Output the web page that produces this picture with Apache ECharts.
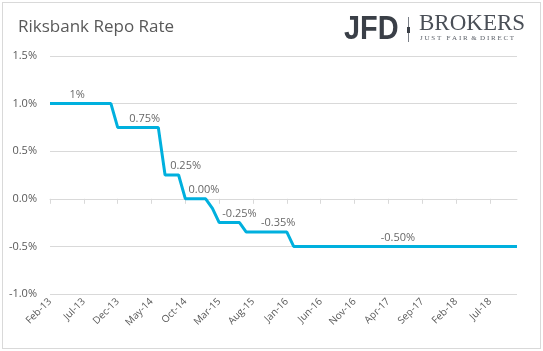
<!DOCTYPE html>
<html>
<head>
<meta charset="utf-8">
<script src="https://cdn.jsdelivr.net/npm/echarts@6/dist/echarts.min.js"></script>
<style>
  html, body { margin: 0; padding: 0; background: #fff; }
  #frame { position: absolute; left: 2px; top: 2px; width: 537px; height: 345px; border: 1px solid #d9d9d9; }
  #main { position: absolute; left: 0; top: 0; width: 543px; height: 351px; }
</style>
</head>
<body>
<div id="frame"></div>
<div id="main"></div>
<script>
// months Feb-13 .. Nov-18
var months = ['Jan','Feb','Mar','Apr','May','Jun','Jul','Aug','Sep','Oct','Nov','Dec'];
var categories = [];
for (var y = 13; y <= 18; y++) {
    for (var m = 0; m < 12; m++) {
        if (y == 13 && m < 1) continue;
        if (y == 18 && m > 10) continue;
        categories.push(months[m] + '-' + y);
    }
}

// repo rate, % (one value per month)
var repoRate = [
    1, 1, 1, 1, 1, 1, 1, 1, 1, 1,                 // Feb-13 .. Nov-13
    0.75, 0.75, 0.75, 0.75, 0.75, 0.75, 0.75,     // Dec-13 .. Jun-14
    0.25, 0.25, 0.25,                             // Jul-14 .. Sep-14
    0, 0, 0, 0,                                   // Oct-14 .. Jan-15
    -0.1,                                         // Feb-15
    -0.25, -0.25, -0.25, -0.25,                   // Mar-15 .. Jun-15
    -0.35, -0.35, -0.35, -0.35, -0.35, -0.35, -0.35, // Jul-15 .. Jan-16
    -0.5, -0.5, -0.5, -0.5, -0.5, -0.5, -0.5, -0.5, -0.5, -0.5,
    -0.5, -0.5, -0.5, -0.5, -0.5, -0.5, -0.5, -0.5, -0.5, -0.5,
    -0.5, -0.5, -0.5, -0.5, -0.5, -0.5, -0.5, -0.5, -0.5, -0.5,
    -0.5, -0.5, -0.5, -0.5                        // Feb-16 .. Nov-18
];

// data labels: which month gets which text
var labelMonths = ['Jun-13', 'Apr-14', 'Sep-14', 'Dec-14', 'Jun-15', 'Dec-15', 'Jun-17'];
var labelTexts  = ['1%', '0.75%', '0.25%', '0.00%', '-0.25%', '-0.35%', '-0.50%'];
var labelShiftX = [0, 0, 7, 5, 0, -2, -4];

var yTicks = [-1, -0.5, 0, 0.5, 1, 1.5];

var labelData = [];
for (var i = 0; i < labelMonths.length; i++) {
    var idx = categories.indexOf(labelMonths[i]);
    labelData.push({
        value: [labelMonths[i], repoRate[idx]],
        label: { offset: [labelShiftX[i], 0], formatter: labelTexts[i] }
    });
}

var myChart = echarts.init(document.getElementById('main'));
var option = {
    animation: false,
    title: {
        text: 'Riksbank Repo Rate',
        left: 13,
        top: 14,
        textStyle: { fontFamily: 'Open Sans', fontWeight: 'normal', fontSize: 17, color: '#595959' }
    },
    grid: { left: 50, right: 26, top: 56, bottom: 57, outerBoundsMode: 'none', containLabel: false },
    xAxis: [
        {
            // labels along the bottom of the plot
            type: 'category',
            data: categories,
            position: 'bottom',
            boundaryGap: false,
            axisLine: { show: false, onZero: false },
            axisTick: { show: false },
            axisLabel: {
                interval: 4,
                rotate: 45,
                margin: 6,
                hideOverlap: false,
                fontFamily: 'Open Sans',
                fontSize: 10,
                color: '#595959'
            },
            splitLine: { show: false }
        },
        {
            // the axis line and ticks sit on zero
            type: 'category',
            data: categories,
            position: 'top',
            boundaryGap: false,
            axisLine: { show: true, onZero: true, lineStyle: { color: '#d9d9d9', width: 1 } },
            axisTick: { show: true, inside: true, interval: 4, length: 5, lineStyle: { color: '#d9d9d9' } },
            axisLabel: { show: false },
            splitLine: { show: false }
        }
    ],
    yAxis: {
        type: 'value',
        min: yTicks[0],
        max: yTicks[yTicks.length - 1],
        interval: 0.5,
        axisLine: { show: false },
        axisTick: { show: false },
        axisLabel: {
            margin: 13,
            fontFamily: 'Open Sans',
            fontSize: 11,
            color: '#595959',
            formatter: function (v) { return v.toFixed(1) + '%'; }
        },
        splitLine: { lineStyle: { color: '#d9d9d9', width: 1 } }
    },
    series: [
        {
            name: 'Repo rate',
            type: 'line',
            data: repoRate,
            symbol: 'none',
            lineStyle: { color: '#00B0DE', width: 3 },
            itemStyle: { color: '#00B0DE' }
        },
        {
            name: 'labels',
            type: 'scatter',
            data: labelData,
            symbolSize: 1,
            itemStyle: { color: 'rgba(0,0,0,0)' },
            silent: true,
            label: {
                show: true,
                position: 'top',
                distance: 3,
                fontFamily: 'Open Sans',
                fontSize: 11,
                color: '#3f3f3f'
            }
        }
    ],
    graphic: [
        {
            type: 'text', left: 344, top: 13, scaleX: 0.85,
            style: { text: 'JFD', font: 'bold 34px "Liberation Sans", sans-serif', fill: '#3a3f47' }
        },
        {
            type: 'rect', shape: { x: 408, y: 17, width: 1, height: 25 },
            style: { fill: '#7a7f87' }
        },
        {
            type: 'rect', shape: { x: 407, y: 27, width: 3, height: 6 },
            style: { fill: '#3a3f47' }
        },
        {
            type: 'text', left: 419, top: 12,
            style: { text: 'BROKERS', font: '23px "Liberation Serif", "DejaVu Serif", serif', fill: '#4a4f57' }
        },
        {
            type: 'text', left: 420, top: 35,
            style: { text: 'J U S T   F A I R  &  D I R E C T', font: '7px "Liberation Serif", serif', fill: '#5a5f67' }
        }
    ]
};
myChart.setOption(option);
</script>
</body>
</html>
